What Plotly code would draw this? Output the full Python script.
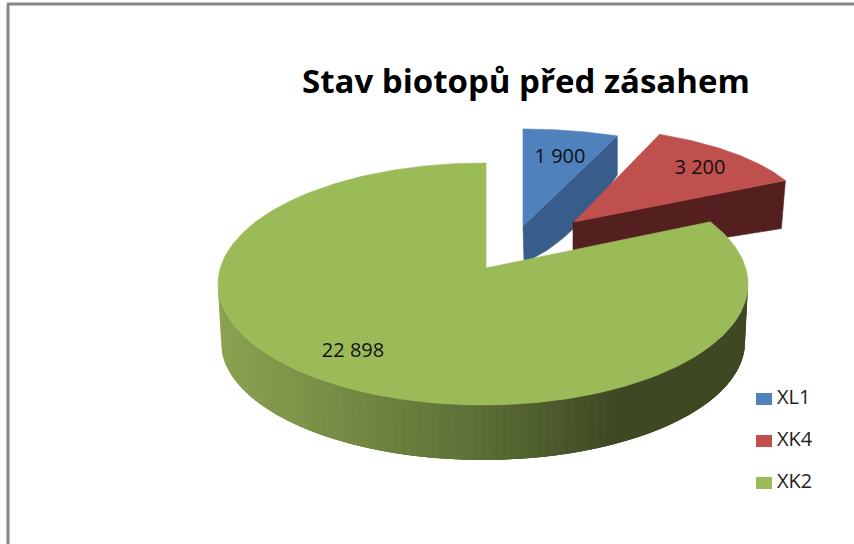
import numpy as np
import plotly.graph_objects as go

# --- data ---
categories = ["XL1", "XK4", "XK2"]
values = [1900, 3200, 22898]
title_text = "Stav biotopů před zásahem"

# --- styles ---
top_colors = ["#4F81BD", "#C0504D", "#9BBB59"]
FONT = "Open Sans"
W, H = 854, 544

total = sum(values)
cum = np.cumsum([0] + values) / total * 360.0
fig = go.Figure()


def poly(xs, ys, color, lw=0.6):
    fig.add_trace(go.Scatter(x=list(xs), y=list(ys), mode="lines", fill="toself",
                             fillcolor=color, line=dict(color=color, width=lw),
                             hoverinfo="skip", showlegend=False))


def rim(t0, t1, cx, cy, a, b, n=80):
    t = np.radians(np.linspace(t0, t1, n))
    return cx + a * np.sin(t), cy - b * np.cos(t)


# slice 1: XL1 (exploded, blue)
rx, ry = rim(cum[0], cum[1], 523, 207, 228, 78)
bz = np.linspace(0, 1, 30)
sx = (1 - bz) ** 2 * rx[-1] + 2 * bz * (1 - bz) * 570 + bz ** 2 * 524
sy = (1 - bz) ** 2 * (ry[-1] + 39) + 2 * bz * (1 - bz) * 245 + bz ** 2 * 262
poly(np.r_[rx[-1], sx, 523, rx[-1]], np.r_[ry[-1], sy, 226, ry[-1]], "#385D8A")
poly(np.r_[523, rx, 523], np.r_[226, ry, 226], top_colors[0])

# slice 2: XK4 (exploded, red)
rx, ry = rim(cum[1], cum[2], 555, 219, 253, 93)
poly([573, rx[-1], rx[-1] - 4, 573, 573], [222, ry[-1], ry[-1] + 48, 262, 222], "#54201F")
poly(np.r_[574, rx, 574], np.r_[222, ry, 222], top_colors[1])

# slice 3: XK2 (green body)
start = cum[2] - 6.5
CX, CY, A, B = 483, 284, 265, 121
CY2, A2, B2 = 342, 262, 118
stops = [(215, (140, 163, 82)), (350, (116, 138, 68)), (470, (94, 113, 55)),
         (620, (62, 72, 35)), (760, (62, 72, 35))]
n_seg = 90
edges = np.linspace(90, 270, n_seg + 1)
# right-most band first; every band overlaps the previous one so no seams show
for e0 in edges[:-1]:
    e1 = min(e0 + 6, 270)
    tx, ty = rim(e0, e1, CX, CY, A, B, 6)
    bx, by = rim(e1, e0, CX, CY2, A2, B2, 6)
    xm = CX + A * np.sin(np.radians(e0 + 1))
    col = [np.interp(xm, [s[0] for s in stops], [s[1][i] for s in stops]) for i in range(3)]
    poly(np.r_[tx, bx, tx[0]], np.r_[ty, by, ty[0]], "rgb(%d,%d,%d)" % tuple(col), lw=0)

rx, ry = rim(start, 360, CX, CY, A, B, 300)
poly(np.r_[486, rx, 486, 486], np.r_[268, ry, 163, 268], top_colors[2])

# data labels
labels = [f"{v:,}".replace(",", " ") for v in values]
fig.add_trace(go.Scatter(x=[560, 700, 353], y=[158, 169, 352], mode="text", text=labels,
                         textfont=dict(family=FONT, size=20, color="#111111"),
                         textposition="middle center", hoverinfo="skip", showlegend=False))

# legend
leg_y = [399, 441, 483]
for name, col, y in zip(categories, top_colors, leg_y):
    poly([756, 772, 772, 756, 756], [y - 6, y - 6, y + 6, y + 6, y - 6], col, lw=0)
fig.add_trace(go.Scatter(x=[777] * 3, y=leg_y, mode="text", text=categories,
                         textfont=dict(family=FONT, size=20, color="#222222"),
                         textposition="middle right", hoverinfo="skip", showlegend=False))

# title
fig.add_annotation(x=526, y=80, xref="x", yref="y", text="<b>%s</b>" % title_text,
                   showarrow=False, font=dict(family=FONT, size=33, color="#000000"))

# frame
frame = dict(color="#868686", width=3)
fig.add_shape(type="line", x0=8, x1=8, y0=4, y1=544, xref="x", yref="y", line=frame)
fig.add_shape(type="line", x0=7, x1=854, y0=4, y1=4, xref="x", yref="y", line=frame)

fig.update_xaxes(visible=False, range=[0, W], fixedrange=True)
fig.update_yaxes(visible=False, range=[H, 0], fixedrange=True)
fig.update_layout(width=W, height=H, margin=dict(l=0, r=0, t=0, b=0),
                  paper_bgcolor="white", plot_bgcolor="white", showlegend=False)
fig.write_html("out.html", config={"displayModeBar": False},
               post_script="document.body.style.margin='0';document.body.style.overflow='hidden';")
